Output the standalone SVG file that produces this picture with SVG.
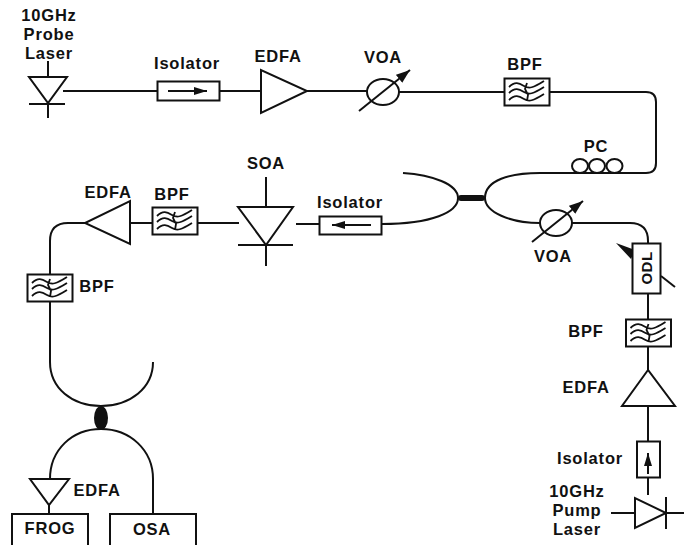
<svg xmlns="http://www.w3.org/2000/svg" width="690" height="545" viewBox="0 0 690 545">
<style>
.s{fill:none;stroke:#111;stroke-width:2}
.n{fill:#fff;stroke:#111;stroke-width:2}
.w{fill:none;stroke:#111;stroke-width:1.8}
.k{fill:#111}
text{font-family:"Liberation Sans",Arial,sans-serif;font-weight:700;font-size:16.500px;fill:#111;text-anchor:middle;letter-spacing:.8px}
.o{letter-spacing:.5px;font-size:15px}
</style>
<defs>
<marker id="a" markerUnits="userSpaceOnUse" markerWidth="16" markerHeight="12" refX="14" refY="5" orient="auto"><path d="M0 0L14 5L0 10Z" fill="#111"/></marker>
<marker id="b" markerUnits="userSpaceOnUse" markerWidth="14" markerHeight="10" refX="13" refY="4.500" orient="auto"><path d="M0 0.500L13 4.500L0 8.500Z" fill="#111"/></marker>
<g id="bpf">
<rect class="n" x="-22.500" y="-13.500" width="45" height="27"/>
<path class="w" d="M-18-5C-12-11-8-9-3-6S6-4 17-11M-18 1C-12-5-8-3-3 0S6 2 17-5M-18 8C-12 2-8 4-3 7S6 9 17 2M0-9L-2-3L1 3L0 9"/>
</g>
<g id="voa">
<ellipse class="s" cx="0" cy="0" rx="16" ry="13"/>
<path class="s" d="M-24 19L27-22" marker-end="url(#a)"/>
</g>
</defs>
<g id="connectors">
<path class="s" d="M63 91H157M220 91H261M307 91H368M399 92H504M550 92H646Q656 92 656 102V163Q656 173 646 173H540C510 173 485 180 485 198C485 212 510 223 540 223M572 223H630Q648 223 648 241V243"/>
<path class="s" d="M403 173C432 175 458 184 458 198C458 212 432 224 382 224M319 224H296M239 223H197M152 223H130M85 223H68Q50 223 50 241V274M50 302V362C50 388 72 406 101 406C130 406 153 388 153 362M50 479C50 450 72 429 101 429C130 429 153 450 153 479V514M49 505V513"/>
<path class="s" d="M648 294V319M648 347V370M648 406V441M648 478V495"/>
</g>
<g id="probe-laser">
<text x="49" y="21">10GHz</text><text x="49" y="40">Probe</text><text x="49" y="59">Laser</text>
<path class="n" d="M29 77H67L48 103Z"/><path class="s" d="M48 61V77M29 104H65M48 103V118"/>
</g>
<g id="isolator-1"><text x="187" y="69">Isolator</text><rect class="n" x="157.500" y="81.500" width="62" height="19"/><path class="s" d="M168 91H207" marker-end="url(#b)"/></g>
<g id="edfa-1"><text x="278" y="62">EDFA</text><path class="n" d="M261 70V113L307 91Z"/></g>
<g id="voa-1"><text x="383" y="63">VOA</text><use href="#voa" x="383" y="92"/></g>
<g id="bpf-1"><text x="525" y="70">BPF</text><use href="#bpf" x="527" y="92"/></g>
<g id="pc"><text x="596" y="152">PC</text><ellipse class="s" cx="580" cy="166" rx="8" ry="7"/><ellipse class="s" cx="597" cy="166" rx="8" ry="7"/><ellipse class="s" cx="614.500" cy="166" rx="8" ry="7"/></g>
<g id="coupler-1"><rect class="k" x="458" y="195" width="27" height="6" rx="3"/></g>
<g id="voa-2"><use href="#voa" x="556" y="223"/><text x="553" y="262">VOA</text></g>
<g id="isolator-2"><text x="350" y="208">Isolator</text><rect class="n" x="319.500" y="216.500" width="62" height="18"/><path class="s" d="M371 225H332" marker-end="url(#b)"/></g>
<g id="soa"><text x="266" y="169">SOA</text><path class="n" d="M238 207H293L266 245Z"/><path class="s" d="M266 177V207M238 245H293M266 245V266"/></g>
<g id="bpf-2"><text x="172" y="200">BPF</text><use href="#bpf" x="175" y="221"/></g>
<g id="edfa-2"><text x="108" y="198">EDFA</text><path class="n" d="M130 201V244L85 223Z"/></g>
<g id="bpf-3"><use href="#bpf" x="50" y="288"/><text x="97" y="292">BPF</text></g>
<g id="coupler-2"><ellipse class="k" cx="101" cy="418" rx="7" ry="12"/></g>
<g id="edfa-3"><path class="n" d="M30 479H69L49 505Z"/><text x="97" y="496">EDFA</text></g>
<g id="frog"><path class="s" d="M12 545V514H88V545"/><text x="50" y="534">FROG</text></g>
<g id="osa"><path class="s" d="M110 545V514H196V545"/><text x="152" y="535">OSA</text></g>
<g id="odl">
<path class="s" d="M675 287L661 276"/>
<path class="k" d="M616 243L635 250L631 259Z"/>
<rect class="n" x="632.500" y="243.500" width="28" height="50"/>
<text class="o" transform="translate(652 268) rotate(-90)">ODL</text>
</g>
<g id="bpf-4"><text x="586" y="337">BPF</text><use href="#bpf" x="648.500" y="333"/></g>
<g id="edfa-4"><text x="586" y="393">EDFA</text><path class="n" d="M648 370L622 406H675Z"/></g>
<g id="isolator-3"><text x="590" y="464">Isolator</text><rect class="n" x="637" y="441.500" width="23" height="36"/><path class="s" d="M648 474V453" marker-end="url(#b)"/></g>
<g id="pump-laser">
<text x="577" y="497">10GHz</text><text x="577" y="516">Pump</text><text x="577" y="535">Laser</text>
<path class="n" d="M635 498V528L666 513Z"/><path class="s" d="M611 513H635M666 497V529M666 513H684"/>
</g>
</svg>
